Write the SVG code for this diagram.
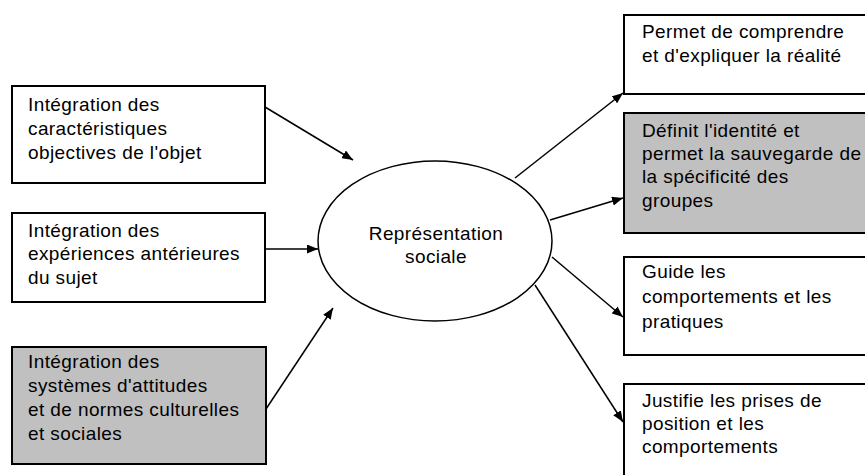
<svg xmlns="http://www.w3.org/2000/svg" width="865" height="475" viewBox="0 0 865 475">
  <style>
    .box { fill: #ffffff; stroke: #000000; stroke-width: 2; }
    .grey { fill: #c0c0c0; }
    .lbl { font-family: "Liberation Sans", Arial, sans-serif; font-size: 19px; letter-spacing: 0.4px; fill: #000000; }
    .mid { text-anchor: middle; }
    .edge { stroke: #000000; stroke-width: 1.5; fill: none; marker-end: url(#head); }
  </style>
  <defs>
    <marker id="head" viewBox="0 0 11 9" refX="11" refY="4.5" markerWidth="11" markerHeight="9" markerUnits="userSpaceOnUse" orient="auto">
      <path d="M0,0 L11,4.5 L0,9 Z" fill="#000000"/>
    </marker>
  </defs>

  <rect width="865" height="475" fill="#ffffff"/>

  <!-- inputs on the left -->
  <g id="in-objet">
    <rect class="box" x="12" y="86" width="253" height="97"/>
    <text class="lbl" x="28" y="111">Intégration des</text>
    <text class="lbl" x="28" y="135">caractéristiques</text>
    <text class="lbl" x="28" y="159">objectives de l'objet</text>
  </g>
  <g id="in-sujet">
    <rect class="box" x="12" y="213" width="253" height="89"/>
    <text class="lbl" x="28" y="237">Intégration des</text>
    <text class="lbl" x="28" y="260">expériences antérieures</text>
    <text class="lbl" x="28" y="284">du sujet</text>
  </g>
  <g id="in-normes">
    <rect class="box grey" x="12" y="347" width="254" height="117"/>
    <text class="lbl" x="28" y="368">Intégration des</text>
    <text class="lbl" x="28" y="392">systèmes d'attitudes</text>
    <text class="lbl" x="28" y="416">et de normes culturelles</text>
    <text class="lbl" x="28" y="440">et sociales</text>
  </g>

  <!-- central notion -->
  <g id="representation">
    <ellipse cx="435" cy="241" rx="117" ry="80" fill="#ffffff" stroke="#000000" stroke-width="1.5"/>
    <text class="lbl mid" x="436" y="240">Représentation</text>
    <text class="lbl mid" x="436" y="263">sociale</text>
  </g>

  <!-- functions on the right -->
  <g id="out-realite">
    <rect class="box" x="624" y="15" width="250" height="79"/>
    <text class="lbl" x="642" y="38">Permet de comprendre</text>
    <text class="lbl" x="642" y="62">et d'expliquer la réalité</text>
  </g>
  <g id="out-identite">
    <rect class="box grey" x="624" y="113" width="250" height="120"/>
    <text class="lbl" x="642" y="137">Définit l'identité et</text>
    <text class="lbl" x="642" y="160">permet la sauvegarde de</text>
    <text class="lbl" x="642" y="183">la spécificité des</text>
    <text class="lbl" x="642" y="207">groupes</text>
  </g>
  <g id="out-pratiques">
    <rect class="box" x="624" y="257" width="250" height="98"/>
    <text class="lbl" x="642" y="278">Guide les</text>
    <text class="lbl" x="642" y="303">comportements et les</text>
    <text class="lbl" x="642" y="328">pratiques</text>
  </g>
  <g id="out-position">
    <rect class="box" x="624" y="384" width="250" height="100"/>
    <text class="lbl" x="642" y="407">Justifie les prises de</text>
    <text class="lbl" x="642" y="430">position et les</text>
    <text class="lbl" x="642" y="453">comportements</text>
  </g>

  <!-- connectors -->
  <g id="connectors">
    <line class="edge" x1="265" y1="107" x2="353" y2="160"/>
    <line class="edge" x1="265" y1="249" x2="318" y2="249"/>
    <line class="edge" x1="266" y1="409" x2="333" y2="308"/>
    <line class="edge" x1="515" y1="178" x2="623" y2="93"/>
    <line class="edge" x1="550" y1="220" x2="623" y2="198"/>
    <line class="edge" x1="552" y1="257" x2="623" y2="317"/>
    <line class="edge" x1="535" y1="285" x2="623" y2="422"/>
  </g>
</svg>
